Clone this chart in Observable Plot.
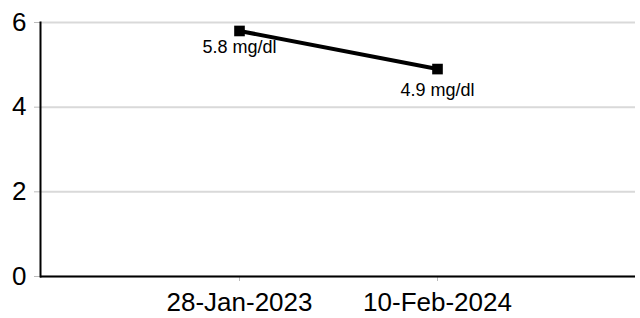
<!DOCTYPE html>
<html>
<head>
<meta charset="utf-8">
<script src="https://cdn.jsdelivr.net/npm/d3@7"></script>
<script src="https://cdn.jsdelivr.net/npm/@observablehq/plot@0.6"></script>
<style>
  html, body { margin: 0; padding: 0; background: #fff; }
  #chart svg { display: block; }
</style>
</head>
<body>
<div id="chart"></div>
<script>
const dates = ["28-Jan-2023", "10-Feb-2024"];
const values = [5.8, 4.9];
const labels = ["5.8 mg/dl", "4.9 mg/dl"];
const labelOffsets = [16, 21];
const yTicks = [0, 2, 4, 6];

const data = dates.map((d, i) => ({date: d, value: values[i], label: labels[i]}));

const chart = Plot.plot({
  width: 640,
  height: 318,
  marginLeft: 40,
  marginRight: 5,
  marginTop: 22,
  marginBottom: 42,
  style: {fontFamily: "Liberation Sans, Arial, sans-serif", fontSize: "26px", background: "#fff", color: "#000"},
  x: {type: "point", domain: dates, padding: 1, label: null},
  y: {domain: [0, 6], ticks: yTicks, label: null},
  marks: [
    Plot.gridY(yTicks, {stroke: "#d9d9d9", strokeOpacity: 1, strokeWidth: 2}),
    Plot.axisY(yTicks, {tickSize: 6, tickPadding: 8, fontSize: 26, stroke: "#bbb", fill: "#000", label: null}),
    Plot.axisX(dates, {tickSize: 5, tickPadding: 11, fontSize: 26, stroke: "#bbb", fill: "#000", label: null}),
    Plot.frame({anchor: "left", stroke: "#000", strokeWidth: 2}),
    Plot.ruleY([0], {stroke: "#000", strokeWidth: 2}),
    Plot.line(data, {x: "date", y: "value", stroke: "#000", strokeWidth: 4}),
    Plot.dot(data, {x: "date", y: "value", symbol: "square", r: 6, fill: "#000", stroke: "none"}),
    Plot.text([data[0]], {x: "date", y: "value", text: "label", dy: labelOffsets[0], fontSize: 18, fill: "#000"}),
    Plot.text([data[1]], {x: "date", y: "value", text: "label", dy: labelOffsets[1], fontSize: 18, fill: "#000"})
  ]
});
document.getElementById("chart").appendChild(chart);
</script>
</body>
</html>
